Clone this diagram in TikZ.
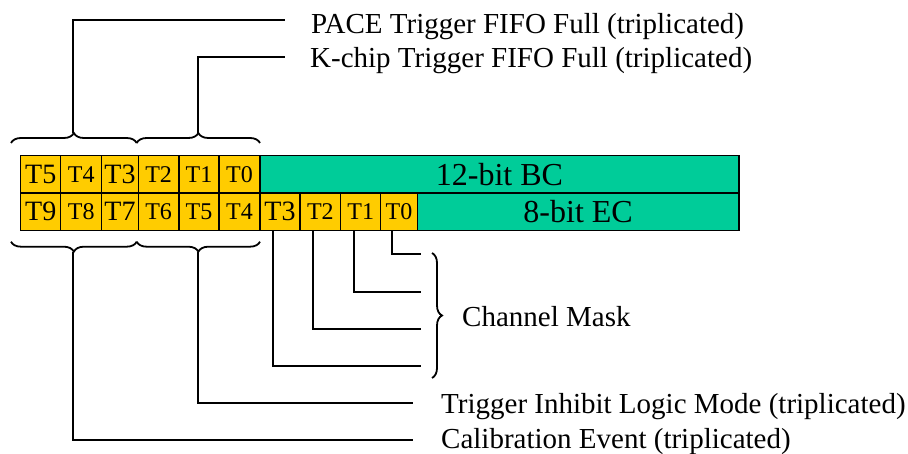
\documentclass[tikz,border=0pt]{standalone}
\usepackage{fontspec}
\setmainfont{Liberation Serif}
\usepackage{xcolor}
\definecolor{bitgold}{RGB}{255,204,0}
\definecolor{bitgreen}{RGB}{0,204,153}
\usepackage{tikz}
\usetikzlibrary{positioning, decorations.pathreplacing}

\begin{document}
\begin{tikzpicture}[x=1pt, y=-1pt,
	cell/.style={rectangle, draw=black, fill=bitgold, line width=1.5pt, anchor=north west,
	             minimum height=37.5pt, inner sep=0pt, outer sep=0pt},
	bar/.style={cell, fill=bitgreen, font=\fontsize{32}{32}\selectfont},
	lbl/.style={anchor=base west, inner sep=0pt, font=\fontsize{29}{30}\selectfont},
	conn/.style={draw=black, line width=2pt},
	curly/.style={decorate, decoration={brace, amplitude=10pt}, line width=1.8pt}
	]
\useasboundingbox (0,0) rectangle (908,454);

% counter fields
\node[bar, minimum width=479pt] (bc) at (260,155.5) {12-bit BC};
\node[bar, minimum width=321.7pt] (ec) at (417.3,193) {8-bit EC};

% trigger bits, upper word
\foreach \t/\l/\r/\s [count=\i] in {T5/20.7/60.7/28, T4/60.7/101.7/24, T3/101.7/138.3/28,
	T2/138.3/179/24, T1/179/219/24, T0/219/260/24} {
	\pgfmathsetmacro\w{\r-\l}
	\node[cell, minimum width=\w pt, font=\fontsize{\s}{\s}\selectfont] (u\i) at (\l,155.5) {\t};
}
% trigger bits, lower word
\foreach \t/\l/\r/\s [count=\i] in {T9/20.7/60.7/28, T8/60.7/101.7/24, T7/101.7/138.3/28,
	T6/138.3/179/24, T5/179/219/24, T4/219/260/24, T3/260/300/28, T2/300/340.7/24,
	T1/340.7/380.7/24, T0/380.7/417.3/24} {
	\pgfmathsetmacro\w{\r-\l}
	\node[cell, minimum width=\w pt, font=\fontsize{\s}{\s}\selectfont] (d\i) at (\l,193) {\t};
}

% braces
\draw[curly] (11,143) -- (136.7,143);
\draw[curly] (136.7,143) -- (260,143);
\draw[curly] (136.7,241.7) -- (11,241.7);
\draw[curly] (260,241.7) -- (136.7,241.7);
\draw[curly] (432,253) -- (432,378);

\coordinate (ptip) at (73.3,133);
\coordinate (ktip) at (198.3,133);
\coordinate (ctip) at (73.3,251.7);
\coordinate (itip) at (198.3,251.7);

% labels
\node[lbl] (pace) at (311,33.6) {PACE Trigger FIFO Full (triplicated)};
\node[lbl] (kchip) at (310,67.6) {K-chip Trigger FIFO Full (triplicated)};
\node[lbl] (inhibit) at (441,413.6) {Trigger Inhibit Logic Mode (triplicated)};
\node[lbl] (calib) at (441,448.6) {Calibration Event (triplicated)};
\node[lbl] (mask) at (462,327) {Channel Mask};

\coordinate (pend) at (285,20);
\coordinate (kend) at (285,57.3);
\coordinate (iend) at (413,402.7);
\coordinate (cend) at (413,440);
\draw[conn] (ptip) |- (pend);
\draw[conn] (ktip) |- (kend);
\draw[conn] (itip) |- (iend);
\draw[conn] (ctip) |- (cend);

% channel mask bits
\foreach \n/\y in {10/254.3, 9/291.7, 8/329, 7/366} {
	\coordinate (m\n) at (420.7,\y);
	\draw[conn] ([xshift=-7pt]d\n.south) |- (m\n);
}
\end{tikzpicture}
\end{document}
